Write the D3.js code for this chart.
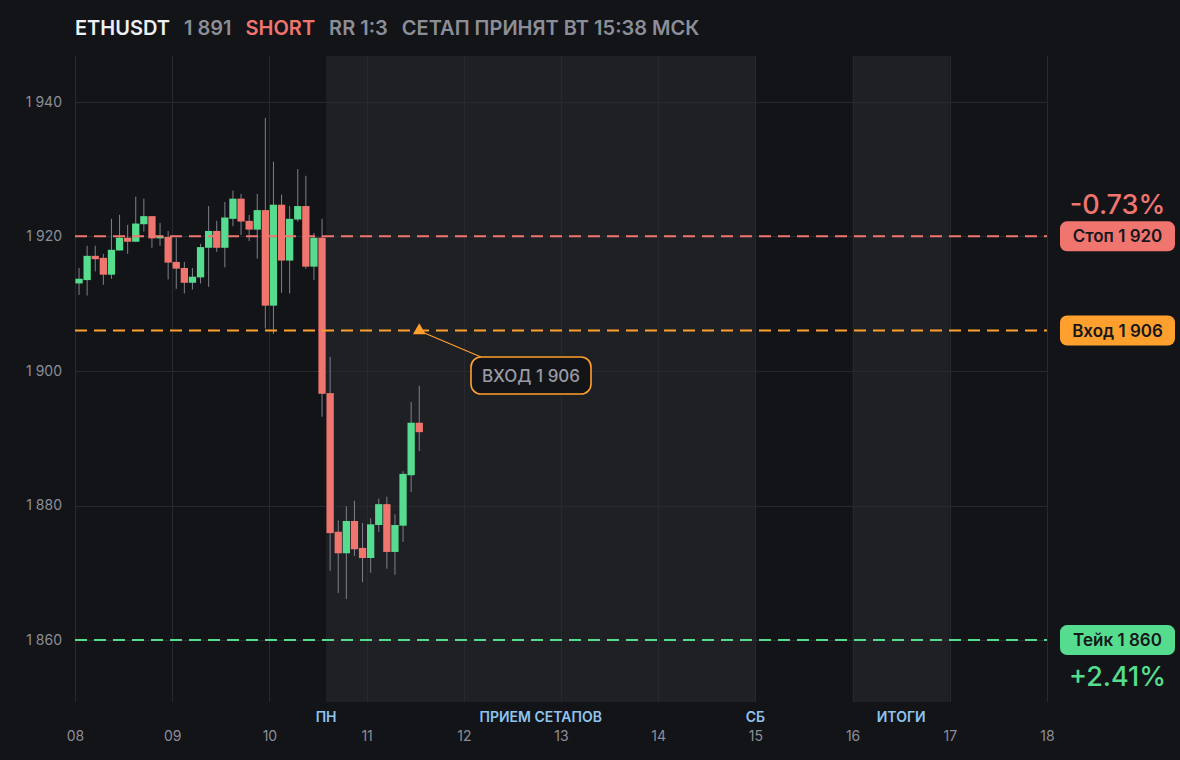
<!DOCTYPE html>
<html><head><meta charset="utf-8">
<script src="https://cdn.jsdelivr.net/npm/d3@7"></script>
<style>
html,body{margin:0;padding:0;background:#131418;}
svg{display:block;font-family:Inter,"Noto Sans",sans-serif;}
</style></head>
<body><svg id="c" width="1180" height="760"></svg>
<script>
// ---- data ----
const symbol = "ETHUSDT";
const lastPrice = 1891;
const side = "SHORT";
const rrText = "RR 1:3";
const setupText = "СЕТАП ПРИНЯТ ВТ 15:38 МСК";
const startDay = 8;           // first candle: day 08 00:00
const candleHours = 2;
const opens  = [1913.0,1913.5,1917.1,1916.8,1914.3,1917.9,1919.8,1919.2,1921.8,1923.0,1919.7,1919.9,1916.2,1915.3,1913.1,1913.9,1918.3,1920.8,1918.3,1922.6,1925.6,1922.3,1921.0,1923.9,1909.7,1924.7,1916.4,1922.5,1924.5,1915.5,1919.8,1896.7,1876.1,1872.9,1877.7,1873.7,1872.2,1877.1,1880.2,1873.1,1877.0,1884.5,1892.3];
const highs  = [1915.3,1918.6,1918.6,1917.4,1922.6,1923.2,1921.7,1925.9,1925.6,1923.0,1922.0,1920.8,1919.8,1916.2,1915.3,1918.9,1924.5,1922.3,1925.1,1926.8,1926.3,1923.2,1926.3,1937.6,1931.1,1926.2,1924.5,1930.0,1929.0,1920.5,1922.6,1902.1,1877.8,1879.9,1880.7,1877.4,1878.1,1881.0,1881.3,1878.7,1885.1,1895.4,1897.8];
const lows   = [1911.3,1911.2,1914.8,1912.8,1913.7,1917.9,1917.4,1919.2,1920.7,1918.3,1918.6,1913.6,1912.2,1911.5,1912.1,1913.0,1912.5,1917.7,1915.4,1921.5,1920.2,1919.3,1916.7,1906.3,1905.5,1911.6,1911.5,1922.2,1915.2,1913.5,1893.2,1870.3,1867.0,1866.1,1872.5,1868.6,1870.0,1876.1,1870.6,1869.7,1874.6,1882.0,1888.1];
const closes = [1913.7,1917.1,1916.6,1914.3,1918.0,1919.8,1919.2,1921.9,1923.0,1919.7,1920.1,1916.1,1915.2,1913.1,1914.0,1918.4,1920.8,1918.3,1922.8,1925.6,1922.2,1921.0,1923.9,1909.7,1924.7,1916.4,1922.6,1924.5,1915.5,1919.8,1896.6,1875.9,1872.9,1877.7,1873.5,1872.2,1877.2,1880.2,1873.1,1877.1,1884.7,1892.3,1890.9];
const dayTicks = [8,9,10,11,12,13,14,15,16,17,18];
const dayLabels = ["08","09","10","11","12","13","14","15","16","17","18"];
const priceTicks = [1860,1880,1900,1920,1940];
// session bands (in days) and their labels
const bands = [
  {from:10 + 14/24, to:15, label:"ПРИЕМ СЕТАПОВ", startLabel:"ПН", endLabel:"СБ"},
  {from:16, to:17, label:"ИТОГИ"}
];
const stopPrice = 1920, entryPrice = 1906, takePrice = 1860;
const entryDay = 11 + 13/24;  // entry marker at last candle
const levels = [
  {name:"Стоп", price:stopPrice, color:"#f1756f"},
  {name:"Вход", price:entryPrice, color:"#ff9f2e"},
  {name:"Тейк", price:takePrice, color:"#55dc8e"}
];

// ---- layout ----
const W=1180,H=760, L=75, R=1047, T=56, B=702;
const C = {bg:"#131418", band:"#1f2024", grid:"#27292e", text:"#8b8e97", up:"#55dc8e", down:"#f1756f", wick:"#7d8089", blue:"#8fc4ef"};
const fmt = v => d3.format(",")(Math.round(v)).replace(/,/g,"\u00a0");

const svg = d3.select("#c");
svg.append("rect").attr("width",W).attr("height",H).attr("fill",C.bg);

const x = d3.scaleLinear().domain([8,18]).range([L,R]);
const y = d3.scaleLinear().domain([1850.8,1946.8]).range([B,T]);

// bands
svg.append("g").selectAll("rect").data(bands).join("rect")
  .attr("x",d=>x(d.from)).attr("width",d=>x(d.to)-x(d.from))
  .attr("y",T).attr("height",B-T).attr("fill",C.band);

// grid
const grid = svg.append("g");
grid.selectAll("line.v").data(dayTicks).join("line")
  .attr("x1",d=>Math.round(x(d))+0.5).attr("x2",d=>Math.round(x(d))+0.5)
  .attr("y1",T).attr("y2",B).attr("stroke",C.grid).attr("stroke-width",1);
grid.selectAll("line.h").data(priceTicks).join("line")
  .attr("x1",L).attr("x2",R)
  .attr("y1",d=>Math.round(y(d))+0.5).attr("y2",d=>Math.round(y(d))+0.5)
  .attr("stroke",C.grid).attr("stroke-width",1);

// y axis labels
const yAxis = d3.axisLeft(y).tickValues(priceTicks).tickFormat(fmt).tickSize(0).tickPadding(13);
const ya = svg.append("g").attr("transform",`translate(${L},0)`).call(yAxis);
ya.select(".domain").remove();
ya.selectAll("text").attr("fill",C.text).attr("font-size",14).attr("font-family","Inter");

// x axis labels
const xAxis = d3.axisBottom(x).tickValues(dayTicks).tickFormat((d,i)=>dayLabels[i]).tickSize(0).tickPadding(0);
const xa = svg.append("g").attr("transform",`translate(0,728)`).call(xAxis);
xa.select(".domain").remove();
xa.selectAll("text").attr("fill",C.text).attr("font-size",14).attr("font-family","Inter").attr("dy","0.9em");

// band labels
const bl = [];
bands.forEach(b=>{
  if(b.startLabel) bl.push({t:b.startLabel, d:b.from});
  bl.push({t:b.label, d:(b.from+b.to)/2});
  if(b.endLabel) bl.push({t:b.endLabel, d:b.to});
});
svg.append("g").selectAll("text").data(bl).join("text")
  .attr("x",d=>x(d.d)).attr("y",722).attr("text-anchor","middle")
  .attr("fill",C.blue).attr("font-size",14).attr("font-weight",600).text(d=>d.t);

// candles
const candles = opens.map((o,i)=>({o, h:highs[i], l:lows[i], c:closes[i], t:startDay + (i*candleHours + candleHours/2)/24}));
const bw = x(startDay + candleHours/24) - x(startDay);
const cw = bw*0.9;
const cg = svg.append("g");
cg.selectAll("line").data(candles).join("line")
  .attr("x1",d=>x(d.t)).attr("x2",d=>x(d.t))
  .attr("y1",d=>y(d.h)).attr("y2",d=>y(d.l))
  .attr("stroke",C.wick).attr("stroke-width",1);
cg.selectAll("rect").data(candles).join("rect")
  .attr("x",d=>x(d.t)-cw/2).attr("width",cw)
  .attr("y",d=>y(Math.max(d.o,d.c))).attr("height",d=>Math.max(1.5,Math.abs(y(d.o)-y(d.c))))
  .attr("fill",d=>d.c>=d.o?C.up:C.down);

// level lines
svg.append("g").selectAll("line").data(levels).join("line")
  .attr("x1",L).attr("x2",R)
  .attr("y1",d=>y(d.price)).attr("y2",d=>y(d.price))
  .attr("stroke",d=>d.color).attr("stroke-width",2).attr("stroke-dasharray","12 7");

// right pills
const pillX=1060, pillW=115, pillH=30;
const pg = svg.append("g").selectAll("g").data(levels).join("g")
  .attr("transform",d=>`translate(${pillX},${y(d.price)-pillH/2})`);
pg.append("rect").attr("width",pillW).attr("height",pillH).attr("rx",7).attr("fill",d=>d.color);
pg.append("text").attr("x",pillW/2).attr("y",pillH/2).attr("dy","0.36em").attr("text-anchor","middle")
  .attr("fill","#16171b").attr("font-size",17).attr("font-weight",600)
  .text(d=>`${d.name} ${fmt(d.price)}`);

// percentages
const stopPct = (entryPrice-stopPrice)/entryPrice*100;
const takePct = (entryPrice-takePrice)/entryPrice*100;
const pfmt = v => (v<0?"-":"+") + d3.format(".2f")(Math.abs(v)) + "%";
svg.append("text").attr("x",pillX+pillW/2).attr("y",y(stopPrice)-22).attr("text-anchor","middle")
  .attr("fill",C.down).attr("font-size",27).attr("font-weight",500).text(pfmt(stopPct));
svg.append("text").attr("x",pillX+pillW/2).attr("y",y(takePrice)+46).attr("text-anchor","middle")
  .attr("fill",C.up).attr("font-size",27).attr("font-weight",500).text(pfmt(takePct));

// entry marker + callout
const ex = x(entryDay), ey = y(entryPrice);
const bx=471, by=357, bwid=120, bh=37;
svg.append("line").attr("x1",ex+4).attr("y1",ey+2).attr("x2",bx+10).attr("y2",by)
  .attr("stroke","#ff9f2e").attr("stroke-width",1.2);
svg.append("path").attr("d",d3.symbol(d3.symbolTriangle,70)()).attr("transform",`translate(${ex},${ey})`)
  .attr("fill","#ff9f2e");
svg.append("rect").attr("x",bx).attr("y",by).attr("width",bwid).attr("height",bh).attr("rx",10)
  .attr("fill",C.bg).attr("stroke","#ff9f2e").attr("stroke-width",1.6);
svg.append("text").attr("x",bx+bwid/2).attr("y",by+bh/2).attr("dy","0.36em").attr("text-anchor","middle")
  .attr("fill","#9a9ca5").attr("font-size",17).attr("font-weight",500).text("ВХОД " + fmt(entryPrice));

// title
const title = svg.append("text").attr("x",75).attr("y",35).attr("font-size",20).attr("font-weight",600);
title.append("tspan").attr("fill","#eef0f3").text(symbol);
title.append("tspan").attr("dx",14).attr("fill","#8b8e97").text(fmt(lastPrice));
title.append("tspan").attr("dx",14).attr("fill",C.down).text(side);
title.append("tspan").attr("dx",14).attr("fill","#8b8e97").text(rrText);
title.append("tspan").attr("dx",14).attr("fill","#8b8e97").text(setupText);
</script></body></html>
